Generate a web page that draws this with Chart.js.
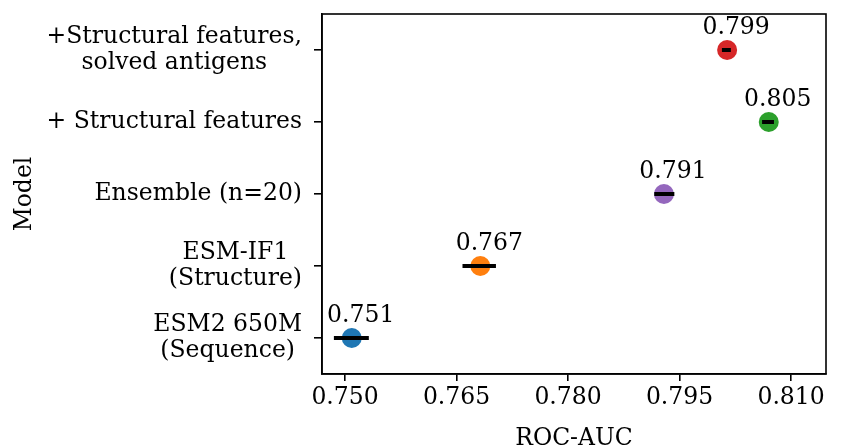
<!DOCTYPE html>
<html>
<head>
<meta charset="utf-8">
<script src="https://cdn.jsdelivr.net/npm/chart.js@4.4.0/dist/chart.umd.min.js"></script>
<style>
  body { margin: 0; background: #fff; }
  #wrap { width: 843px; height: 448px; }
</style>
</head>
<body>
<div id="wrap"><canvas id="aucChart" width="843" height="448"></canvas></div>
<script>
// values
const modelLabels = [
    ['ESM2 650M', '(Sequence)'],
    ['ESM-IF1', '(Structure)'],
    ['Ensemble (n=20)'],
    ['+ Structural features'],
    ['+Structural features,', 'solved antigens']
];
const aucMean = [0.7509, 0.7682, 0.7929, 0.8070, 0.8014];
const aucLow = [0.7485, 0.7658, 0.7916, 0.8061, 0.8007];
const aucHigh = [0.7532, 0.7703, 0.7943, 0.8077, 0.8019];
const valueLabels = ['0.751', '0.767', '0.791', '0.805', '0.799'];
const pointColors = ['#1f77b4', '#ff7f0e', '#9467bd', '#2ca02c', '#d62728'];
const xTicks = [0.750, 0.765, 0.780, 0.795, 0.810];

const FONT = 'DejaVu Serif';
const FSIZE = 23.5;

const labelPlugin = {
    id: 'labelPlugin',
    afterDraw(chart) {
        const ctx = chart.ctx;
        const area = chart.chartArea;
        const xs = chart.scales.x;
        const ys = chart.scales.y;
        ctx.save();
        // frame
        ctx.strokeStyle = '#000';
        ctx.lineWidth = 1.6;
        ctx.strokeRect(area.left, area.top, area.right - area.left, area.bottom - area.top);

        ctx.fillStyle = '#000';
        ctx.font = FSIZE + 'px "' + FONT + '"';
        ctx.textBaseline = 'middle';

        // category labels: block right-aligned, lines centred
        const rightEdge = area.left - 20;
        modelLabels.forEach((lines, i) => {
            const yc = ys.getPixelForValue(i);
            const widths = lines.map(l => ctx.measureText(l).width);
            const maxW = Math.max(...widths);
            const lh = 25.5;
            lines.forEach((l, k) => {
                const y = yc + (k - (lines.length - 1) / 2) * lh;
                ctx.textAlign = 'center';
                ctx.fillText(l, rightEdge - maxW / 2, y);
            });
        });

        // value labels above points
        ctx.textAlign = 'center';
        ctx.textBaseline = 'alphabetic';
        aucMean.forEach((v, i) => {
            const x = xs.getPixelForValue(v) + 9;
            const y = ys.getPixelForValue(i) - 16;
            ctx.fillText(valueLabels[i], x, y);
        });
        ctx.restore();
    }
};

const errorSets = aucMean.map((v, i) => ({
    type: 'line',
    data: [{ x: aucLow[i], y: i }, { x: aucHigh[i], y: i }],
    borderColor: '#000',
    borderWidth: 4,
    borderCapStyle: 'butt',
    pointRadius: 0,
    order: 0
}));

new Chart(document.getElementById('aucChart').getContext('2d'), {
    type: 'scatter',
    data: {
        datasets: [
            ...errorSets,
            {
                data: aucMean.map((v, i) => ({ x: v, y: i })),
                backgroundColor: pointColors,
                borderWidth: 0,
                pointRadius: 10,
                pointHoverRadius: 10,
                order: 1
            }
        ]
    },
    options: {
        responsive: false,
        animation: false,
        layout: { padding: { top: 14, right: 17, left: 0, bottom: 0 } },
        plugins: { legend: { display: false }, tooltip: { enabled: false } },
        scales: {
            x: {
                type: 'linear',
                min: 0.7469,
                max: 0.8147,
                afterBuildTicks: s => { s.ticks = xTicks.map(v => ({ value: v })); },
                afterFit: s => { s.height = 74; },
                ticks: {
                    callback: v => v.toFixed(3),
                    color: '#000',
                    font: { family: FONT, size: FSIZE },
                    padding: 3,
                    maxRotation: 0
                },
                grid: { drawOnChartArea: false, drawTicks: true, tickLength: 7, color: '#000', lineWidth: 1.6 },
                border: { color: '#000', width: 1.6 },
                title: {
                    display: true,
                    text: 'ROC-AUC',
                    color: '#000',
                    font: { family: FONT, size: FSIZE, lineHeight: 1 },
                    padding: { top: 0, bottom: -3 }
                }
            },
            y: {
                type: 'linear',
                min: -0.5,
                max: 4.5,
                afterBuildTicks: s => { s.ticks = modelLabels.map((l, i) => ({ value: i })); },
                afterFit: s => { s.width = 322; },
                ticks: { display: false },
                grid: { drawOnChartArea: false, drawTicks: true, tickLength: 8, color: '#000', lineWidth: 1.6 },
                border: { color: '#000', width: 1.6 },
                title: {
                    display: true,
                    text: 'Model',
                    color: '#000',
                    font: { family: FONT, size: FSIZE, lineHeight: 1 },
                    padding: { top: 13, bottom: 0 }
                }
            }
        }
    },
    plugins: [labelPlugin]
});
</script>
</body>
</html>
